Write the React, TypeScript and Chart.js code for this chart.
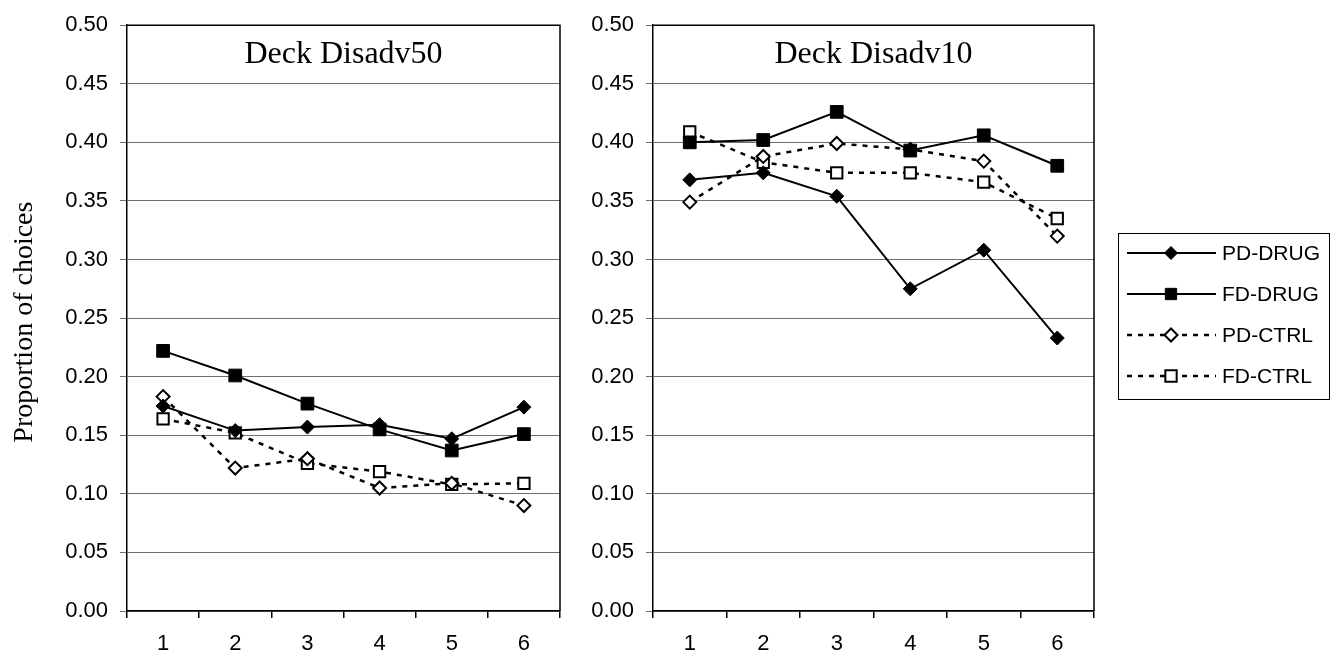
import React, { useEffect, useRef } from 'react';
import { Chart, registerables } from 'chart.js';

Chart.register(...registerables);

const blocks = ['1', '2', '3', '4', '5', '6'];
const seriesNames = ['PD-DRUG', 'FD-DRUG', 'PD-CTRL', 'FD-CTRL'];
const panelTitles = ['Deck Disadv50', 'Deck Disadv10'];
const yAxisTitle = 'Proportion of choices';

// Deck Disadv50
const pdDrug50 = [0.175, 0.154, 0.157, 0.159, 0.147, 0.174];
const fdDrug50 = [0.222, 0.201, 0.177, 0.155, 0.137, 0.151];
const pdCtrl50 = [0.183, 0.122, 0.130, 0.105, 0.109, 0.090];
const fdCtrl50 = [0.164, 0.152, 0.126, 0.119, 0.108, 0.109];

// Deck Disadv10
const pdDrug10 = [0.368, 0.374, 0.354, 0.275, 0.308, 0.233];
const fdDrug10 = [0.400, 0.402, 0.426, 0.393, 0.406, 0.380];
const pdCtrl10 = [0.349, 0.388, 0.399, 0.394, 0.384, 0.320];
const fdCtrl10 = [0.409, 0.383, 0.374, 0.374, 0.366, 0.335];

const SANS = "'Liberation Sans', Arial, sans-serif";
const SERIF = "'Liberation Serif', 'Times New Roman', serif";

const seriesStyles = [
  { dash: [] as number[], shape: 'rectRot', radius: 7, fill: '#000', lw: 2, pbw: 1 },
  { dash: [] as number[], shape: 'rect', radius: 9, fill: '#000', lw: 2, pbw: 1 },
  { dash: [5, 6], shape: 'rectRot', radius: 6.5, fill: '#fff', lw: 2.5, pbw: 2 },
  { dash: [5, 6], shape: 'rect', radius: 8, fill: '#fff', lw: 2.5, pbw: 2 },
];

function makeDatasets(values: number[][]) {
  return values.map((v, i) => {
    const s = seriesStyles[i];
    return {
      label: seriesNames[i],
      data: v,
      borderColor: '#000',
      borderWidth: s.lw,
      borderDash: s.dash,
      pointStyle: s.shape,
      pointRadius: s.radius,
      pointBackgroundColor: s.fill,
      pointBorderColor: '#000',
      pointBorderWidth: s.pbw,
      tension: 0,
      fill: false,
    };
  });
}

function drawMarker(ctx: CanvasRenderingContext2D, shape: string, x: number, y: number, r: number, fill: string, bw: number) {
  ctx.save();
  ctx.beginPath();
  if (shape === 'rectRot') {
    ctx.moveTo(x, y - r);
    ctx.lineTo(x + r, y);
    ctx.lineTo(x, y + r);
    ctx.lineTo(x - r, y);
    ctx.closePath();
  } else {
    const h = r * Math.SQRT1_2;
    ctx.rect(x - h, y - h, 2 * h, 2 * h);
  }
  ctx.fillStyle = fill;
  ctx.fill();
  ctx.lineWidth = bw;
  ctx.strokeStyle = '#000';
  ctx.setLineDash([]);
  ctx.stroke();
  ctx.restore();
}

type PanelCfg = {
  title: string;
  values: number[][];
  yWidth: number;
  padRight: number;
  showYTitle: boolean;
  legendX: number | null;
};

function makeChart(canvas: HTMLCanvasElement, cfg: PanelCfg) {
  const overlay = {
    id: 'overlay',
    afterDraw(chart: any) {
      const ctx: CanvasRenderingContext2D = chart.ctx;
      const a = chart.chartArea;
      ctx.save();
      // frame top and right
      ctx.strokeStyle = '#000';
      ctx.lineWidth = 1.5;
      ctx.setLineDash([]);
      ctx.beginPath();
      ctx.moveTo(a.left, a.top);
      ctx.lineTo(a.right, a.top);
      ctx.lineTo(a.right, a.bottom);
      ctx.stroke();
      // panel title
      ctx.fillStyle = '#000';
      ctx.font = `32px ${SERIF}`;
      ctx.textAlign = 'center';
      ctx.textBaseline = 'alphabetic';
      ctx.fillText(cfg.title, (a.left + a.right) / 2, a.top + 38);
      // y title
      if (cfg.showYTitle) {
        ctx.save();
        ctx.translate(32, (a.top + a.bottom) / 2 + 4);
        ctx.rotate(-Math.PI / 2);
        ctx.font = `28px ${SERIF}`;
        ctx.textAlign = 'center';
        ctx.textBaseline = 'alphabetic';
        ctx.fillText(yAxisTitle, 0, 0);
        ctx.restore();
      }
      // legend
      if (cfg.legendX !== null) {
        const lx = cfg.legendX;
        const top = 233;
        const bottom = 399;
        ctx.strokeStyle = '#000';
        ctx.lineWidth = 1;
        ctx.strokeRect(lx + 0.5, top + 0.5, 211, bottom - top);
        const rows = [253, 294, 335, 376];
        seriesNames.forEach((name, i) => {
          const s = seriesStyles[i];
          const y = rows[i];
          ctx.save();
          ctx.strokeStyle = '#000';
          ctx.lineWidth = s.lw;
          ctx.setLineDash(s.dash);
          ctx.beginPath();
          ctx.moveTo(lx + 9, y);
          ctx.lineTo(lx + 98, y);
          ctx.stroke();
          ctx.restore();
          drawMarker(ctx, s.shape, lx + 53, y, s.shape === 'rect' ? 8 : 6.5, s.fill, s.pbw);
          ctx.fillStyle = '#000';
          ctx.font = `21px ${SANS}`;
          ctx.textAlign = 'left';
          ctx.textBaseline = 'middle';
          ctx.fillText(name, lx + 104, y + 1);
        });
      }
      ctx.restore();
    },
  };

  return new Chart(canvas, {
    type: 'line',
    data: { labels: blocks, datasets: makeDatasets(cfg.values) as any },
    options: {
      responsive: false,
      animation: false,
      events: [],
      layout: { padding: { top: 21, right: cfg.padRight, bottom: 0, left: 0 } },
      plugins: { legend: { display: false }, title: { display: false }, tooltip: { enabled: false } },
      scales: {
        x: {
          type: 'category',
          offset: true,
          grid: { offset: true, drawOnChartArea: false, drawTicks: true, tickLength: 7, color: '#000', lineWidth: 1.5 },
          border: { color: '#000', width: 1.5 },
          ticks: { font: { family: SANS, size: 22 }, color: '#000', padding: 13, maxRotation: 0, autoSkip: false },
          afterFit: (scale: any) => {
            scale.height = 48;
          },
        },
        y: {
          min: 0,
          max: 0.5,
          grid: { color: '#6e6e6e', lineWidth: 1, tickLength: 7, tickColor: '#6e6e6e' },
          border: { color: '#000', width: 1.5 },
          ticks: {
            stepSize: 0.05,
            font: { family: SANS, size: 22 },
            color: '#000',
            padding: 12,
            callback: (v: any) => Number(v).toFixed(2),
          },
          afterFit: (scale: any) => {
            scale.width = cfg.yWidth;
          },
        },
      },
    },
    plugins: [overlay],
  } as any);
}

export default function App() {
  const leftRef = useRef<HTMLCanvasElement>(null);
  const rightRef = useRef<HTMLCanvasElement>(null);

  useEffect(() => {
    const c1 = makeChart(leftRef.current!, {
      title: panelTitles[0],
      values: [pdDrug50, fdDrug50, pdCtrl50, fdCtrl50],
      yWidth: 127,
      padRight: 7,
      showYTitle: true,
      legendX: null,
    });
    const c2 = makeChart(rightRef.current!, {
      title: panelTitles[1],
      values: [pdDrug10, fdDrug10, pdCtrl10, fdCtrl10],
      yWidth: 83,
      padRight: 242,
      showYTitle: false,
      legendX: 1118 - 570,
    });
    return () => {
      c1.destroy();
      c2.destroy();
    };
  }, []);

  return (
    <div style={{ position: 'absolute', left: 0, top: 0, width: 1336, height: 659, background: '#fff' }}>
      <canvas ref={leftRef} width={570} height={659} style={{ position: 'absolute', left: 0, top: 0 }} />
      <canvas ref={rightRef} width={766} height={659} style={{ position: 'absolute', left: 570, top: 0 }} />
    </div>
  );
}
